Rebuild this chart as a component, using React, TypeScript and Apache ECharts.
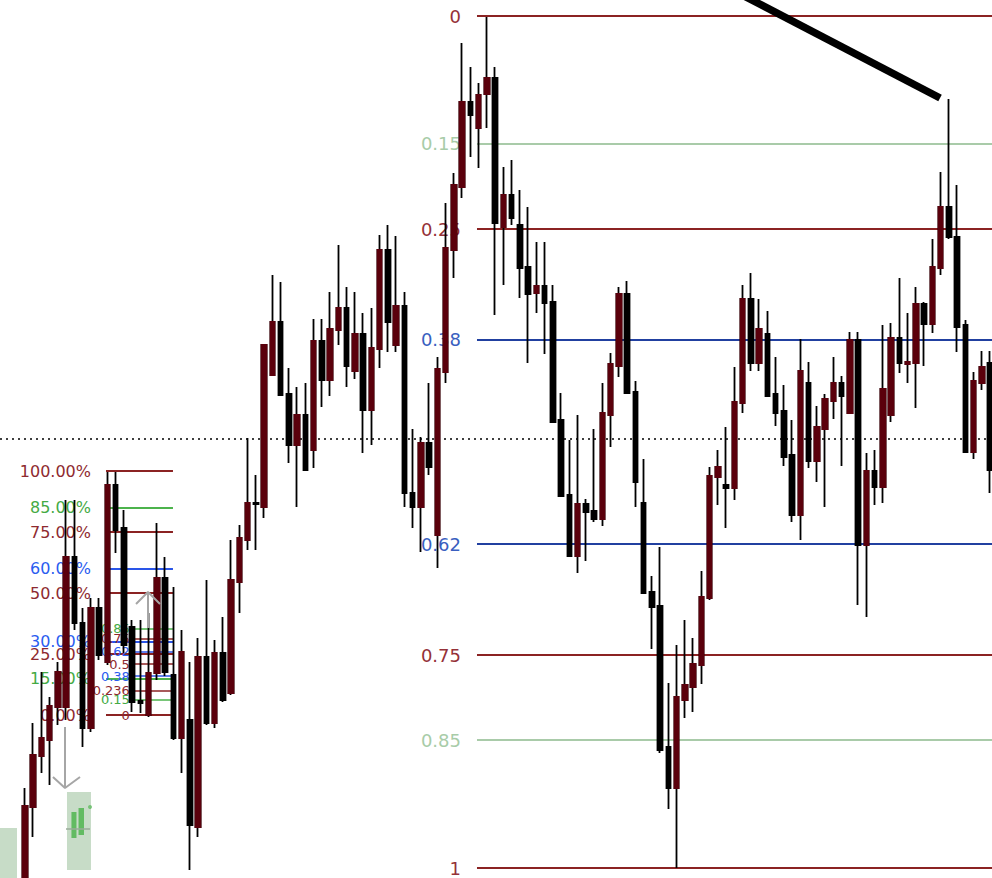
import React, { useEffect, useRef } from "react";
import * as echarts from "echarts";

// ---------- DATA (prices in chart units) ----------
const candleOpen = [
  -17, 71, 122, 138, 171, 171, 321, 255, 150, 270,
  216, 393, 350, 251, 177, 163, 205, 300, 203, 140,
  158, 51, 221, 155, 225, 185, 296, 338, 375, 371,
  503, 556, 484, 433, 463, 428, 537, 498, 548, 570,
  507, 544, 468, 529, 628, 533, 572, 385, 371, 435,
  343, 506, 628, 691, 776, 750, 784, 800, 651, 683,
  653, 611, 585, 592, 576, 458, 383, 322, 374, 367,
  359, 463, 512, 584, 486, 375, 286, 272, 131, 90,
  178, 191, 213, 280, 401, 393, 390, 475, 579, 515,
  544, 484, 467, 423, 363, 495, 417, 449, 477, 495,
  465, 538, 333, 407, 391, 463, 540, 514, 515, 574,
  554, 610, 671, 641, 553, 426, 495, 515,
];
const candleClose = [
  72, 123, 140, 172, 206, 321, 255, 150, 270, 223,
  393, 348, 233, 176, 175, 205, 300, 206, 140, 226,
  53, 221, 155, 225, 178, 298, 340, 375, 374, 533,
  556, 483, 433, 463, 408, 537, 498, 549, 570, 512,
  544, 468, 530, 628, 556, 572, 385, 371, 435, 411,
  509, 630, 693, 776, 763, 783, 800, 655, 683, 660,
  610, 584, 592, 575, 456, 382, 322, 374, 366, 359,
  465, 514, 584, 485, 396, 285, 271, 128, 90, 181,
  193, 214, 281, 402, 411, 390, 476, 579, 515, 549,
  482, 465, 421, 363, 507, 417, 451, 479, 495, 482,
  538, 333, 407, 391, 489, 540, 515, 516, 574, 554,
  611, 671, 641, 551, 426, 497, 511, 408,
];
const candleLow = [
  -27, 41, 105, 93, 153, 158, 248, 131, 146, 218,
  213, 325, 225, 166, 165, 161, 198, 202, 138, 105,
  8, 41, 153, 150, 176, 183, 265, 328, 328, 360,
  503, 483, 415, 371, 408, 410, 471, 482, 533, 491,
  499, 425, 433, 510, 526, 526, 371, 350, 326, 403,
  310, 495, 600, 680, 721, 710, 750, 563, 593, 653,
  580, 515, 565, 524, 456, 382, 322, 305, 317, 356,
  352, 431, 501, 485, 371, 285, 229, 125, 69, 10,
  160, 166, 194, 278, 373, 350, 378, 465, 507, 507,
  482, 452, 412, 356, 338, 410, 396, 371, 459, 412,
  465, 273, 261, 373, 375, 456, 505, 495, 470, 512,
  545, 603, 639, 526, 426, 419, 488, 385,
];
const candleHigh = [
  90, 155, 206, 181, 216, 378, 378, 270, 280, 280,
  406, 406, 368, 258, 258, 265, 355, 321, 291, 248,
  216, 240, 298, 238, 261, 338, 353, 440, 403, 533,
  603, 596, 510, 491, 495, 559, 559, 586, 633, 591,
  586, 565, 570, 643, 653, 642, 586, 449, 441, 495,
  521, 675, 705, 835, 811, 795, 861, 811, 711, 718,
  688, 671, 636, 636, 593, 485, 438, 463, 379, 449,
  495, 525, 591, 597, 497, 419, 302, 331, 195, 233,
  258, 240, 307, 411, 428, 451, 511, 593, 605, 579,
  567, 521, 493, 458, 539, 516, 472, 484, 521, 502,
  546, 546, 425, 428, 553, 555, 600, 565, 591, 576,
  639, 706, 779, 693, 558, 506, 527, 527,
];

// Fibonacci retracement (right, large)
const fibRightLevels = [0, 0.15, 0.25, 0.38, 0.62, 0.75, 0.85, 1];
const fibRightLabels = ["0", "0.15", "0.25", "0.38", "0.62", "0.75", "0.85", "1"];
const fibRightPrice0 = 862; // level 0
const fibRightPrice1 = 10; // level 1
const fibRightFrom = 54.8; // candle index where the lines start

// Fibonacci percent tool (left)
const fibLeftLevels = [1, 0.85, 0.75, 0.6, 0.5, 0.3, 0.25, 0.15, 0];
const fibLeftLabels = ["100.00%", "85.00%", "75.00%", "60.00%", "50.00%", "30.00%", "25.00%", "15.00%", "0.00%"];
const fibLeftPrice0 = 163;
const fibLeftPrice1 = 407;
const fibLeftFrom = 9.82;
const fibLeftTo = 17.94;

// Small Fibonacci (left, overlapping)
const fibSmallLevels = [0.85, 0.75, 0.62, 0.5, 0.38, 0.236, 0.15, 0];
const fibSmallLabels = ["0.85", "0.75", "0.62", "0.5", "0.38", "0.236", "0.15", "0"];
const fibSmallPrice0 = 163;
const fibSmallPrice1 = 265;
const fibSmallFrom = 13.2;
const fibSmallTo = 17.94;

// Current price dotted line
const bidPrice = 439;

// Trend line [candle index, price]
const trendLine = [
  [85.79, 888],
  [110.94, 780],
];

// Arrow drawings [candle index, price]
const arrowPaths = [
  [[4.85, 151], [4.85, 90]],
  [[3.39, 101], [4.85, 90], [6.67, 101]],
  [[13.46, 274], [14.91, 286], [16.37, 274]],
  [[14.91, 286], [14.91, 250]],
];

// Trade marker boxes [[x1, price1], [x2, price2]]
const markerBoxes = [
  [[5.09, 86], [8.0, 8]],
  [[-3.05, 50], [-0.97, 0]],
];
const markerBars = [
  [[5.63, 66], [6.24, 40]],
  [[6.49, 70], [7.15, 43]],
];
const markerTick = [[4.97, 49], [7.88, 49]];
const markerDot = [[7.88, 71]];

// ---------- STYLE ----------
const FONT = "DejaVu Sans";
const CANDLE_RED = "#5b000c";
const X_MIN = -3.031;
const X_MAX = 117.24;
const BODY_W = 5;
const WICK_W = 1.8;

const rightPalette: Record<string, { line: string; text: string }> = {
  r: { line: "#8b2323", text: "#953138" },
  g: { line: "#a9cba9", text: "#a8cca8" },
  b: { line: "#2140a0", text: "#3a5fc0" },
};
const leftPalette: Record<string, { line: string; text: string }> = {
  r: { line: "#8b2323", text: "#8e2a30" },
  g: { line: "#4cb34c", text: "#44aa44" },
  b: { line: "#2a55e8", text: "#2a5cf0" },
};
function kindOf(label: string): string {
  const g = ["0.15", "0.85", "85.00%", "15.00%"];
  const b = ["0.38", "0.62", "60.00%", "30.00%"];
  if (g.includes(label)) return "g";
  if (b.includes(label)) return "b";
  return "r";
}

function fibLines(
  levels: number[],
  labels: string[],
  p0: number,
  p1: number,
  xFrom: number,
  xTo: number,
  palette: Record<string, { line: string; text: string }>,
  fontSize: number,
  distance: number,
  width: number
) {
  return levels.map((lv, k) => {
    const price = p0 + lv * (p1 - p0);
    const c = palette[kindOf(labels[k])];
    return [
      {
        coord: [xFrom, price],
        lineStyle: { color: c.line, width, type: "solid" },
        label: {
          show: true,
          position: "start",
          formatter: labels[k],
          color: c.text,
          fontSize,
          fontFamily: FONT,
          distance,
        },
      },
      { coord: [xTo, price] },
    ];
  });
}

export default function App() {
  const ref = useRef<HTMLDivElement>(null);

  useEffect(() => {
    document.body.style.margin = "0";
    if (!ref.current) return;
    const chart = echarts.init(ref.current, null, { renderer: "svg" });

    const allCandles = candleOpen.map((o, i) => [i, o, candleClose[i], candleLow[i], candleHigh[i]]);
    const bullBodies = candleOpen
      .map((o, i) => [i, o, candleClose[i], o, candleClose[i]])
      .filter((d) => d[2] > d[1]);

    const markLineData: any[] = [
      ...fibLines(fibRightLevels, fibRightLabels, fibRightPrice0, fibRightPrice1, fibRightFrom, X_MAX, rightPalette, 18, 16, 2),
      ...fibLines(fibLeftLevels, fibLeftLabels, fibLeftPrice0, fibLeftPrice1, fibLeftFrom, fibLeftTo, leftPalette, 16, 15, 2),
      ...fibLines(fibSmallLevels, fibSmallLabels, fibSmallPrice0, fibSmallPrice1, fibSmallFrom, fibSmallTo, leftPalette, 13, 4, 1.5),
      {
        yAxis: bidPrice,
        lineStyle: { color: "#000", width: 1.6, type: [2, 4] },
        label: { show: false },
      },
    ];

    const option: any = {
      animation: false,
      backgroundColor: "#ffffff",
      textStyle: { fontFamily: FONT },
      grid: { left: 0, right: 0, top: 0, bottom: 0 },
      xAxis: { type: "value", min: X_MIN, max: X_MAX, show: false, splitLine: { show: false } },
      yAxis: { type: "value", min: 0, max: 878, show: false, splitLine: { show: false } },
      series: [
        {
          type: "line",
          data: [],
          silent: true,
          z: 1,
          markArea: {
            silent: true,
            z: 1,
            data: [
              ...markerBoxes.map((b) => [
                { coord: b[0], itemStyle: { color: "#c7dcc7" } },
                { coord: b[1] },
              ]),
              ...markerBars.map((b) => [
                { coord: b[0], itemStyle: { color: "#62bb62" } },
                { coord: b[1] },
              ]),
            ],
          },
          markLine: {
            silent: true,
            z: 1,
            symbol: ["none", "none"],
            data: markLineData,
          },
        },
        {
          type: "candlestick",
          z: 3,
          silent: true,
          barWidth: BODY_W,
          data: allCandles,
          itemStyle: {
            color: "#000",
            color0: "#000",
            borderColor: "#000",
            borderColor0: "#000",
            borderColorDoji: "#000",
            borderWidth: WICK_W,
          },
        },
        {
          type: "candlestick",
          z: 4,
          silent: true,
          barWidth: BODY_W,
          data: bullBodies,
          itemStyle: {
            color: CANDLE_RED,
            color0: CANDLE_RED,
            borderColor: CANDLE_RED,
            borderColor0: CANDLE_RED,
            borderColorDoji: CANDLE_RED,
            borderWidth: WICK_W,
          },
        },
        {
          type: "line",
          z: 6,
          silent: true,
          symbol: "none",
          data: trendLine,
          lineStyle: { color: "#000", width: 7.5, cap: "butt" },
        },
        ...arrowPaths.map((p) => ({
          type: "line",
          z: 6,
          silent: true,
          symbol: "none",
          data: p,
          lineStyle: { color: "#a6a6a6", width: 2 },
        })),
        {
          type: "line",
          z: 6,
          silent: true,
          symbol: "none",
          data: markerTick,
          lineStyle: { color: "#9aab9a", width: 1.5 },
        },
        {
          type: "scatter",
          z: 6,
          silent: true,
          symbolSize: 4,
          data: markerDot,
          itemStyle: { color: "#62bb62" },
        },
      ],
    };

    chart.setOption(option);
    return () => chart.dispose();
  }, []);

  return (
    <div
      ref={ref}
      style={{ position: "fixed", left: 0, top: 0, width: 992, height: 878, background: "#fff" }}
    />
  );
}
